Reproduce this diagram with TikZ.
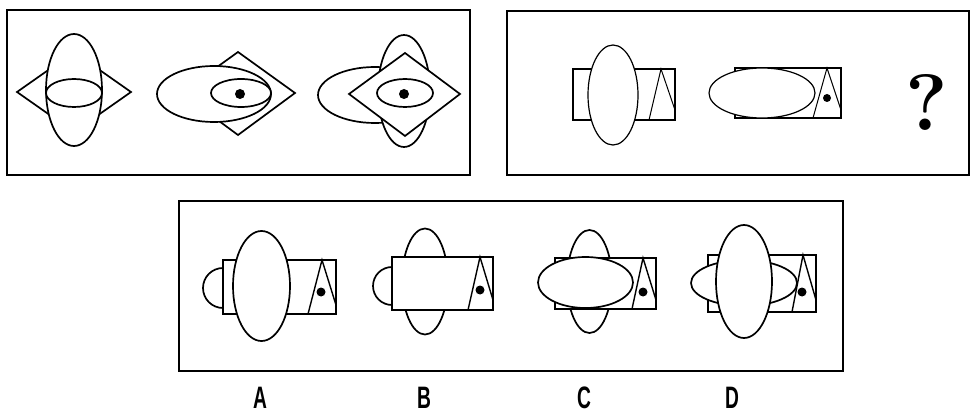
\documentclass[tikz,border=0pt]{standalone}
\usepackage{fontspec}
\newfontfamily\optfont{Liberation Sans}
\begin{document}
\begin{tikzpicture}[
    x=1pt, y=-1pt,
    frame/.style={line width=2.6pt},
    fig/.style={line width=1.7pt, fill=white},
    thinfig/.style={line width=1.2pt, fill=white},
    opt/.style={font=\optfont\fontsize{31}{31}\selectfont, xscale=0.62, inner sep=0pt}
]
\useasboundingbox (0,0) rectangle (972,414);
% Frames
\draw[frame] (7,10) rectangle (470,175);
\draw[frame] (507,11) rectangle (969,175);
\draw[frame] (179,201) rectangle (843,371);

% Top left row
\draw[fig] (17,92) -- (74,52) -- (131,92) -- (74,132) -- cycle;
\draw[fig] (74,90) ellipse [x radius=28, y radius=56];
\draw[fig] (74,93) ellipse [x radius=28, y radius=14];

\draw[fig] (181,93) -- (238,52) -- (295,93) -- (238,135) -- cycle;
\draw[fig] (214,94) ellipse [x radius=57, y radius=28];
\draw[fig] (241,93) ellipse [x radius=30, y radius=14];
\fill (240,94) circle [radius=5];

\draw[fig] (375,95) ellipse [x radius=57, y radius=28];
\draw[fig] (404,91) ellipse [x radius=26, y radius=56];
\draw[fig] (349,94) -- (405,53) -- (460,94) -- (405,136) -- cycle;
\draw[fig] (405,93) ellipse [x radius=28, y radius=14];
\fill (404,94) circle [radius=5];

% Top right row
\draw[thinfig] (573,69) rectangle (675,120);
\draw[line width=1pt] (649,120) -- (661,69) -- (675,110);
\draw[thinfig] (613,95) ellipse [x radius=25, y radius=50];

\draw[thinfig] (735,68) rectangle (841,118);
\draw[line width=1pt] (813,118) -- (827,68) -- (841,110);
\draw[thinfig] (762,93) ellipse [x radius=53, y radius=25];
\fill (827,98) circle [radius=4];

\node[font=\bfseries\fontsize{80}{80}\selectfont, inner sep=0pt] (quest) at (927,103) {?};

% Options
\draw[fig] (223,260) rectangle (336,314);
\draw[fig] (223,268) arc [start angle=270, end angle=90, radius=20] -- cycle;
\draw[line width=1.4pt] (308,314) -- (322,260) -- (336,305);
\fill (321,292) circle [radius=4.5];
\draw[fig] (261.5,286) ellipse [x radius=28.5, y radius=55];

\draw[fig] (425,281.5) ellipse [x radius=23, y radius=53];
\draw[fig] (392,257) rectangle (493,310);
\draw[fig] (392,267) arc [start angle=270, end angle=90, radius=19] -- cycle;
\draw[line width=1.4pt] (468,310) -- (480,257) -- (493,300);
\fill (480,290) circle [radius=4.5];

\draw[fig] (589.5,281.5) ellipse [x radius=22.5, y radius=51.5];
\draw[fig] (555,258) rectangle (656,309);
\draw[line width=1.4pt] (632,309) -- (643,258) -- (656,300);
\fill (643,292) circle [radius=4.5];
\draw[fig] (585.5,282.5) ellipse [x radius=47.5, y radius=25.5];

\draw[fig] (708,255) rectangle (816,312);
\draw[line width=1.4pt] (792,312) -- (803,255) -- (816,300);
\draw[fig] (744,283) ellipse [x radius=53, y radius=23];
\fill (802,292) circle [radius=4.5];
\draw[fig] (744,281.5) ellipse [x radius=28, y radius=56.5];

% Labels
\node[opt] (optA) at (260,398) {\bfseries A};
\node[opt] (optB) at (424,398) {\bfseries B};
\node[opt] (optC) at (584,398) {\bfseries C};
\node[opt] (optD) at (732,398) {\bfseries D};
\end{tikzpicture}
\end{document}
